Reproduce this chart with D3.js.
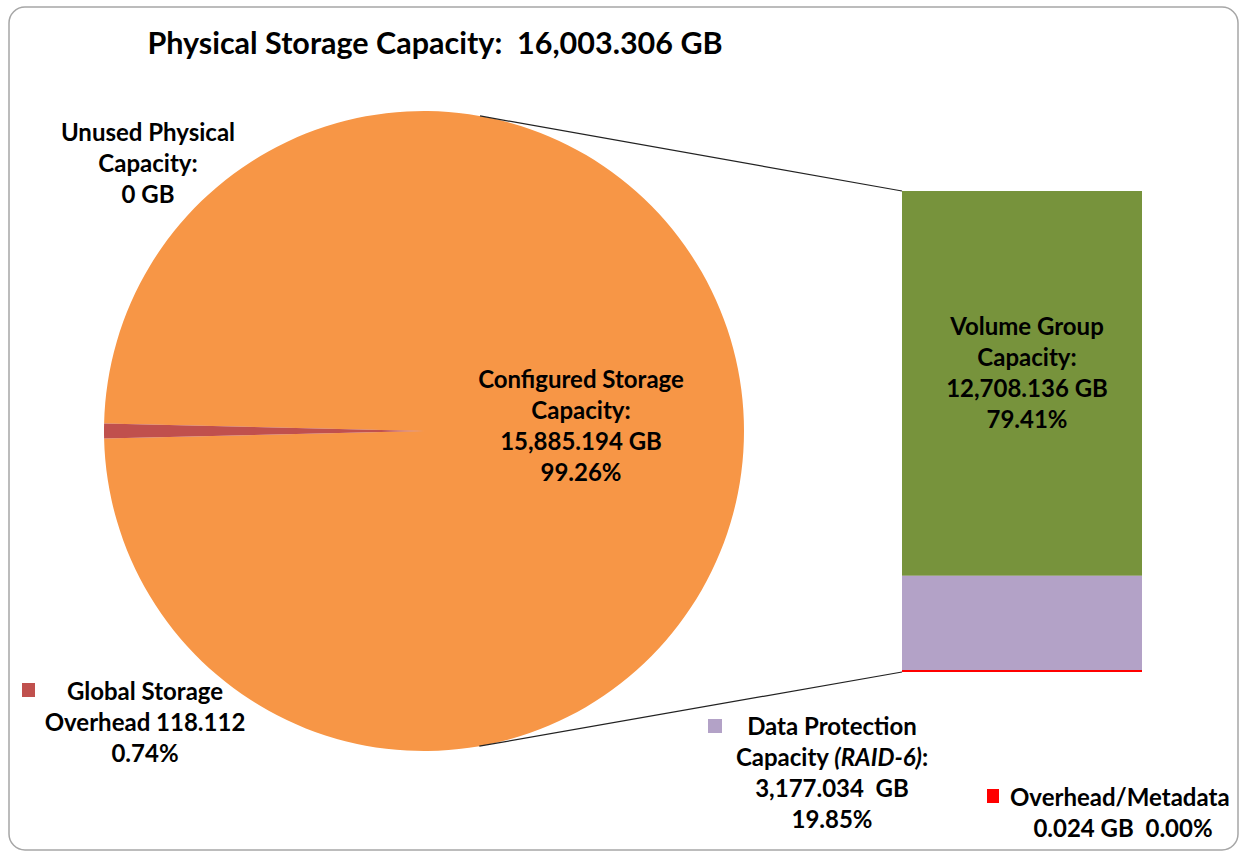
<!DOCTYPE html>
<html>
<head>
<meta charset="utf-8">
<script src="https://cdn.jsdelivr.net/npm/d3@7"></script>
<style>
  html, body { margin: 0; padding: 0; background: #fff; }
  svg { display: block; }
  text { font-family: Lato, 'Open Sans', sans-serif; font-weight: bold; fill: #000; white-space: pre; }
</style>
</head>
<body>
<div id="chart"></div>
<script>
const width = 1241
const height = 854

// pie: physical storage split
const pieNames = ['Configured Storage', 'Global Storage Overhead', 'Unused Physical Capacity']
const pieValues = [15885.194, 118.112, 0]
const pieColors = ['#f79646', '#c0504d', '#8064a2']

// bar: breakdown of configured storage (bottom to top)
const barNames = ['Overhead/Metadata', 'Data Protection Capacity', 'Volume Group Capacity']
const barValues = [0.024, 3177.034, 12708.136]
const barColors = ['#ff0000', '#b3a2c7', '#77933c']

const cx = 424, cy = 431, r = 320
const barX = 902, barW = 240, barTop = 191, barBottom = 672

const svg = d3.select('#chart')
  .append('svg')
  .attr('width', width)
  .attr('height', height)

// frame
svg.append('rect')
  .attr('x', 9).attr('y', 7)
  .attr('width', 1229).attr('height', 843)
  .attr('rx', 16)
  .attr('fill', 'white')
  .attr('stroke', '#a6a6a6')
  .attr('stroke-width', 1.5)

// pie, overhead slice centred at 9 o'clock
const total = d3.sum(pieValues)
const smallAngle = pieValues[1] / total * 2 * Math.PI
const pie = d3.pie()
  .sort(null)
  .value(d => d)
  .startAngle(-Math.PI / 2 + smallAngle / 2)
  .endAngle(3 * Math.PI / 2 + smallAngle / 2)

const arc = d3.arc().innerRadius(0).outerRadius(r)

const g = svg.append('g').attr('transform', `translate(${cx},${cy})`)
g.selectAll('path')
  .data(pie(pieValues).filter(d => d.value > 0))
  .enter()
  .append('path')
  .attr('d', arc)
  .attr('fill', d => pieColors[d.index])

// stacked bar
const y = d3.scaleLinear()
  .domain([0, d3.sum(barValues)])
  .range([barBottom, barTop])

const stacked = []
let acc = 0
barValues.forEach((v, i) => {
  stacked.push({ i, y0: acc, y1: acc + v })
  acc += v
})

// draw top segment first so the thin metadata sliver stays visible
svg.selectAll('rect.bar')
  .data(stacked.slice().reverse())
  .enter()
  .append('rect')
  .attr('class', 'bar')
  .attr('x', barX)
  .attr('width', barW)
  .attr('y', d => Math.min(y(d.y1), y(d.y0) - 2))
  .attr('height', d => Math.max(y(d.y0) - y(d.y1), 2))
  .attr('fill', d => barColors[d.i])

// connector lines, tangent to the pie
function tangent(px, py, side) {
  const dx = px - cx, dy = py - cy
  const d = Math.hypot(dx, dy)
  const a = Math.atan2(dy, dx) + side * Math.acos(r / d)
  return [cx + r * Math.cos(a), cy + r * Math.sin(a)]
}
const t1 = tangent(barX, y(d3.sum(barValues)), -1)
const t2 = tangent(barX, y(0), 1)
svg.append('line')
  .attr('x1', t1[0]).attr('y1', t1[1]).attr('x2', barX).attr('y2', y(d3.sum(barValues)))
  .attr('stroke', '#222').attr('stroke-width', 1.2)
svg.append('line')
  .attr('x1', t2[0]).attr('y1', t2[1]).attr('x2', barX).attr('y2', y(0))
  .attr('stroke', '#222').attr('stroke-width', 1.2)

// text helper
function block(x, y0, lines, size, anchor) {
  const t = svg.append('text')
    .attr('x', x).attr('y', y0)
    .attr('text-anchor', anchor || 'middle')
    .style('font-size', size + 'px')
  lines.forEach((l, i) => {
    const ts = t.append('tspan').attr('x', x).attr('y', y0 + i * 31)
    if (Array.isArray(l)) {
      l.forEach(part => {
        const s = ts.append('tspan').text(part.t)
        if (part.italic) s.style('font-style', 'italic')
      })
    } else {
      ts.text(l)
    }
  })
  return t
}

const fmt = d3.format(',.3f')
const pct = v => d3.format('.2f')(v / total * 100) + '%'
const fs = 24

block(435, 54, ['Physical Storage Capacity:  ' + fmt(total) + ' GB'], 30.5)

block(581, 388, ['Configured Storage', 'Capacity:', fmt(pieValues[0]) + ' GB', pct(pieValues[0])], fs)

block(148, 141, ['Unused Physical', 'Capacity:', pieValues[2] + ' GB'], fs)

block(1027, 335, ['Volume Group', 'Capacity:', fmt(barValues[2]) + ' GB', pct(barValues[2])], fs)

// legend-style labels
svg.append('rect').attr('x', 22).attr('y', 683).attr('width', 13).attr('height', 14).attr('fill', pieColors[1])
block(145, 700, ['Global Storage', 'Overhead ' + d3.format('.3f')(pieValues[1]), pct(pieValues[1])], fs)

svg.append('rect').attr('x', 708).attr('y', 719).attr('width', 14).attr('height', 14).attr('fill', barColors[1])
block(832, 735, ['Data Protection', [{ t: 'Capacity ' }, { t: '(RAID-6)', italic: true }, { t: ':' }], fmt(barValues[1]) + '  GB', pct(barValues[1])], fs)

svg.append('rect').attr('x', 987).attr('y', 789).attr('width', 12).attr('height', 14).attr('fill', barColors[0])
block(1010, 806, ['Overhead/Metadata'], fs, 'start')
block(1123, 837, [d3.format('.3f')(barValues[0]) + ' GB  ' + pct(barValues[0])], fs)
</script>
</body>
</html>
